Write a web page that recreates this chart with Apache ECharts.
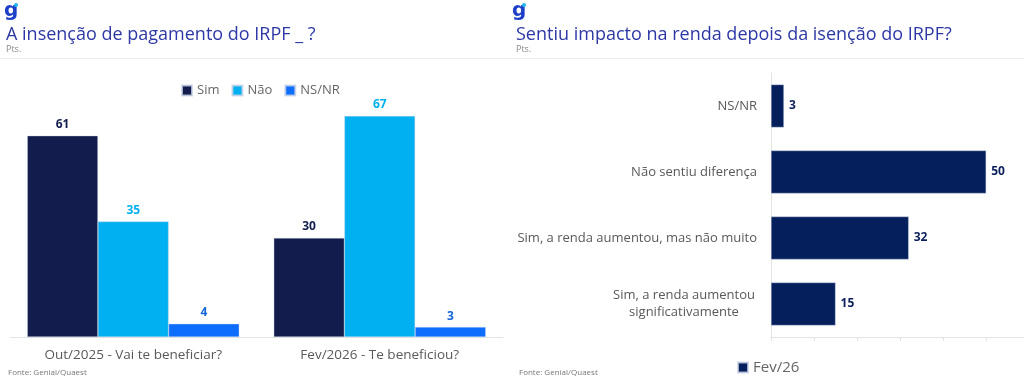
<!DOCTYPE html>
<html>
<head>
<meta charset="utf-8">
<script src="https://cdn.jsdelivr.net/npm/echarts@6/dist/echarts.min.js"></script>
<style>html,body{margin:0;padding:0;background:#fff}#c{width:1024px;height:392px}</style>
</head>
<body>
<div id="c"></div>
<script>
// Left chart data
const leftCategories = ['Out/2025 - Vai te beneficiar?', 'Fev/2026 - Te beneficiou?'];
const leftSeriesNames = ['Sim', 'Não', 'NS/NR'];
const simValues = [61, 30];
const naoValues = [35, 67];
const nsnrValues = [4, 3];

// Right chart data
const rightCategories = ['NS/NR', 'Não sentiu diferença', 'Sim, a renda aumentou, mas não muito', 'Sim, a renda aumentou\nsignificativamente'];
const rightSeriesName = 'Fev/26';
const rightValues = [3, 50, 32, 15];

const FONT = 'Open Sans';
const chart = echarts.init(document.getElementById('c'), null, {renderer: 'canvas'});

const leftColors = ['#121d4e', '#00b0f0', '#0d6efd'];
const leftLabelColors = ['#121d4e', '#00b0f0', '#1566d6'];
const leftData = [simValues, naoValues, nsnrValues];

const option = {
  backgroundColor: '#fff',
  textStyle: {fontFamily: FONT},
  animation: false,
  title: [
    {text: 'A insenção de pagamento do IRPF _ ?', subtext: 'Pts.', left: 1, top: 21, itemGap: 1,
     textStyle: {fontFamily: FONT, fontSize: 18, fontWeight: 'normal', color: '#2d38a6'},
     subtextStyle: {fontFamily: FONT, fontSize: 9, color: '#888'}},
    {text: 'Sentiu impacto na renda depois da isenção do IRPF?', subtext: 'Pts.', left: 511, top: 21, itemGap: 1,
     textStyle: {fontFamily: FONT, fontSize: 18, fontWeight: 'normal', color: '#2d38a6'},
     subtextStyle: {fontFamily: FONT, fontSize: 9, color: '#888'}}
  ],
  legend: [
    {data: leftSeriesNames, left: 176, top: 79, itemWidth: 10, itemHeight: 10, itemGap: 12,
     icon: 'rect', textStyle: {fontFamily: FONT, fontSize: 13, color: '#666'}},
    {data: [rightSeriesName], left: 732, top: 355, itemWidth: 10, itemHeight: 10, itemGap: 5,
     icon: 'rect', textStyle: {fontFamily: FONT, fontSize: 15, color: '#666'}}
  ],
  grid: [
    {left: 10, width: 493, top: 106, height: 231},
    {left: 771, right: 0, top: 73, height: 264}
  ],
  xAxis: [
    {type: 'category', gridIndex: 0, data: leftCategories,
     axisLine: {lineStyle: {color: '#e3e3e3', width: 1}}, axisTick: {show: false},
     axisLabel: {fontFamily: FONT, fontSize: 13.5, color: '#595959', margin: 11}},
    {type: 'value', gridIndex: 1, min: 0, max: 58.8, interval: 10,
     axisLine: {show: true, lineStyle: {color: '#e3e3e3'}},
     axisTick: {show: true, length: 4, lineStyle: {color: '#e3e3e3'}},
     axisLabel: {show: false}, splitLine: {show: false}}
  ],
  yAxis: [
    {type: 'value', gridIndex: 0, min: 0, max: 70, show: false, splitLine: {show: false}},
    {type: 'category', gridIndex: 1, data: rightCategories, inverse: true,
     axisLine: {lineStyle: {color: '#e3e3e3'}}, axisTick: {show: false},
     axisLabel: {fontFamily: FONT, fontSize: 13, color: '#595959', margin: 14, lineHeight: 17,
       formatter: function (v) {
         if (v.indexOf('\n') >= 0) {
           return v.split('\n').map(s => '{c|' + s + '}').join('\n');
         }
         return v;
       },
       rich: {c: {fontFamily: FONT, fontSize: 13, color: '#595959', width: 146, align: 'center', lineHeight: 17}}
     }}
  ],
  series: leftSeriesNames.map((n, i) => ({
    name: n, type: 'bar', xAxisIndex: 0, yAxisIndex: 0, data: leftData[i],
    barGap: '0%', barCategoryGap: '14%',
    itemStyle: {color: leftColors[i], borderColor: 'rgba(200,210,230,0.8)', borderWidth: 0.5},
    label: {show: true, position: 'top', distance: 5, fontFamily: FONT, fontSize: 12, fontWeight: 'bold', color: leftLabelColors[i]}
  })).concat([{
    name: rightSeriesName, type: 'bar', xAxisIndex: 1, yAxisIndex: 1, data: rightValues,
    barCategoryGap: '35%',
    itemStyle: {color: '#041f5c', borderColor: 'rgba(200,210,230,0.8)', borderWidth: 0.5},
    label: {show: true, position: 'right', distance: 5, fontFamily: FONT, fontSize: 12, fontWeight: 'bold', color: '#0a1f5c'}
  }]),
  graphic: [
    {type: 'text', left: 4, top: 1, style: {text: 'g', fontFamily: 'DejaVu Sans', fontSize: 20, fontWeight: 'bold', fill: '#1d3fc8'}},
    {type: 'circle', shape: {cx: 16, cy: 5, r: 2}, style: {fill: '#22b8f0'}},
    {type: 'text', left: 512, top: 1, style: {text: 'g', fontFamily: 'DejaVu Sans', fontSize: 20, fontWeight: 'bold', fill: '#1d3fc8'}},
    {type: 'circle', shape: {cx: 524, cy: 5, r: 2}, style: {fill: '#22b8f0'}},
    {type: 'line', shape: {x1: 0, y1: 58.5, x2: 1024, y2: 58.5}, style: {stroke: '#ececec', lineWidth: 1}},
    {type: 'text', left: 8, top: 369, style: {text: 'Fonte: Genial/Quaest', fontFamily: FONT, fontSize: 8, fill: '#777'}},
    {type: 'text', left: 519, top: 369, style: {text: 'Fonte: Genial/Quaest', fontFamily: FONT, fontSize: 8, fill: '#777'}}
  ]
};
chart.setOption(option);
</script>
</body>
</html>
